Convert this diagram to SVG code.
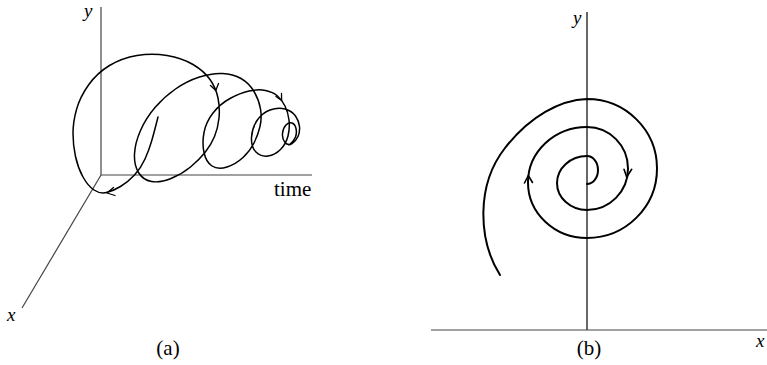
<svg xmlns="http://www.w3.org/2000/svg" width="767" height="365" viewBox="0 0 767 365">
<style>
.axis{stroke:#444;stroke-width:1.2;fill:none}
.axisb{stroke:#000;stroke-width:1.2;fill:none}
.curve{stroke:#000;stroke-width:1.5;fill:none;stroke-linecap:round;stroke-linejoin:round}
.spiral{stroke:#000;stroke-width:2;fill:none;stroke-linecap:round}
.head{stroke:#000;stroke-width:1.3;fill:none;stroke-linecap:round;stroke-linejoin:round}
text{font-family:'Liberation Serif','DejaVu Serif',serif;fill:#000}
.lbl{font-size:21px}
.var{font-style:italic;font-size:19px}
</style>
<rect width="767" height="365" fill="#fff"/>
<g id="panel-a">
  <g id="axes-a">
    <line class="axis" x1="101" y1="7" x2="101" y2="175"/>
    <line class="axis" x1="101" y1="175" x2="312" y2="175"/>
    <line class="axis" x1="101" y1="175" x2="22" y2="308"/>
  </g>
  <path id="trajectory-a" class="curve" d="M158,117 Q154,133 151.5,141.5 Q149,150 145,159 Q141,168 134.5,175 Q128,182 120.5,186.5 Q113,191 106.5,192.5 Q100,194 94,190 Q88,186 83,177 Q78,168 75.5,156.5 Q73,145 73,133.5 Q73,122 76.5,109.5 Q80,97 88.5,85 Q97,73 109.5,65.5 Q122,58 137,55.5 Q152,53 167,55.5 Q182,58 193,64.5 Q204,71 210,79.5 Q216,88 218,98 Q220,108 219,118 Q218,128 214.5,136.5 Q211,145 205,152.5 Q199,160 190.5,167 Q182,174 171,178.5 Q160,183 151.5,181.5 Q143,180 138.5,172.5 Q134,165 134.5,154 Q135,143 140.5,130.5 Q146,118 155,107.5 Q164,97 175.5,89 Q187,81 199.5,77 Q212,73 222.5,73.5 Q233,74 241,78.5 Q249,83 254,91.5 Q259,100 260.5,109 Q262,118 260,126.5 Q258,135 254,143 Q250,151 243,157.5 Q236,164 227,167 Q218,170 212,166 Q206,162 204,152.5 Q202,143 204,132.5 Q206,122 213,113 Q220,104 230,98.5 Q240,93 249,91 Q258,89 265.5,90.5 Q273,92 277.5,96 Q282,100 285,106 Q288,112 289,120 Q290,128 288,136 Q286,144 280.5,149.5 Q275,155 268,156 Q261,157 256,152 Q251,147 251.5,137.5 Q252,128 257,120.5 Q262,113 270,110 Q278,107 285,109 Q292,111 295.5,116 Q299,121 299.5,126.5 Q300,132 298,136.5 Q296,141 292,143.5 Q288,146 285,142.5 Q282,139 282.5,133.5 Q283,128 286,125 Q289,122 292,123 Q295,124 296,128.5 Q297,133 295.5,137 Q294,141 289,145"/>
  <g id="arrows-a">
    <polyline class="head" points="113.5,187.5 107,193 115,195.5"/>
    <polyline class="head" points="210.5,85.5 215.8,90.5 218.5,83.5"/>
    <polyline class="head" points="276,96.5 281.6,100.5 281.5,93.5"/>
  </g>
  <text class="var" x="84" y="17">y</text>
  <text class="var" x="7" y="321">x</text>
  <text class="lbl" x="274" y="196">time</text>
  <text class="lbl" x="168" y="355" text-anchor="middle">(a)</text>
</g>
<g id="panel-b">
  <g id="axes-b">
    <line class="axisb" x1="587" y1="12" x2="587" y2="330"/>
    <line class="axis" x1="431" y1="330" x2="767" y2="330"/>
  </g>
  <path id="spiral-b" class="spiral" d="M500,275 C478,240 476,185 505,148 C530,116 560,100 587,99 A70,69.5 0 0 1 587,238 A59,55.5 0 0 1 587,127 A41,41.5 0 0 1 587,210 A30,27 0 0 1 587,156 A11,14 0 0 1 587,184"/>
  <g id="arrows-b">
    <polyline class="head" points="624,169.3 626.7,177 631.7,169.3" style="stroke-width:1.6"/>
    <polyline class="head" points="524.5,183 528.3,175.5 532.5,182.5" style="stroke-width:1.6"/>
  </g>
  <text class="var" x="573" y="24">y</text>
  <text class="var" x="756" y="347">x</text>
  <text class="lbl" x="589" y="355" text-anchor="middle">(b)</text>
</g>
</svg>
